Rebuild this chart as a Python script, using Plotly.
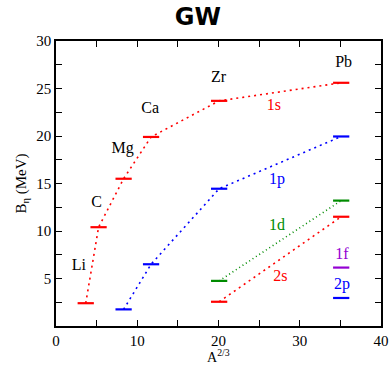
import plotly.graph_objects as go

# Data
nuclei = ["Li", "C", "Mg", "Ca", "Zr", "Pb"]
a23 = [3.66, 5.24, 8.32, 11.70, 20.08, 35.10]
s1 = [2.4, 10.4, 15.5, 19.9, 23.7, 25.6]
p1_x = [8.32, 11.70, 20.08, 35.10]
p1 = [1.75, 6.5, 14.45, 19.95]
d1_x = [20.08, 35.10]
d1 = [4.75, 13.2]
s2_x = [20.08, 35.10]
s2 = [2.55, 11.5]
f1_x = [35.10]
f1 = [6.15]
p2_x = [35.10]
p2 = [2.95]

nuc_lab_x = [2.8, 5.0, 8.2, 11.6, 20.0, 35.4]
nuc_lab_y = [6.3, 12.9, 18.6, 22.8, 26.1, 27.7]

orb_names = ["1s", "1p", "1d", "2s", "1f", "2p"]
orb_lab_x = [26.8, 27.2, 27.2, 27.6, 35.2, 35.2]
orb_lab_y = [23.2, 15.4, 10.5, 5.2, 7.45, 4.3]

RED = "#ff0000"
BLUE = "#0000ff"
GREEN = "#008b00"
PURPLE = "#9400d3"
orb_cols = [RED, BLUE, GREEN, RED, PURPLE, BLUE]

HW = 1.0
SERIF = "Liberation Serif"

fig = go.Figure()

def add_series(xs, ys, col, dotted=True, dash="2px,4px"):
    if dotted and len(xs) > 1:
        fig.add_trace(go.Scatter(x=xs, y=ys, mode="lines",
                                 line=dict(color=col, width=1.6, dash=dash),
                                 hoverinfo="skip", showlegend=False))
    sx, sy = [], []
    for x, y in zip(xs, ys):
        sx += [x - HW, x + HW, None]
        sy += [y, y, None]
    fig.add_trace(go.Scatter(x=sx, y=sy, mode="lines",
                             line=dict(color=col, width=2.2),
                             hoverinfo="skip", showlegend=False))

add_series(a23, s1, RED)
add_series(p1_x, p1, BLUE)
add_series(d1_x, d1, GREEN, dash="1px,3px")
add_series(s2_x, s2, RED)
add_series(f1_x, f1, PURPLE, dotted=False)
add_series(p2_x, p2, BLUE, dotted=False)

fig.add_trace(go.Scatter(x=nuc_lab_x, y=nuc_lab_y, mode="text", text=nuclei,
                         textfont=dict(family=SERIF, size=16, color="black"),
                         hoverinfo="skip", showlegend=False))
fig.add_trace(go.Scatter(x=orb_lab_x, y=orb_lab_y, mode="text", text=orb_names,
                         textfont=dict(family=SERIF, size=16, color=orb_cols),
                         hoverinfo="skip", showlegend=False))

axis_common = dict(showgrid=False, zeroline=False, showline=True, linecolor="black",
                   linewidth=1.5, mirror="ticks", ticks="inside", ticklen=6,
                   tickwidth=1, tickcolor="black", automargin=False,
                   tickfont=dict(family=SERIF, size=15, color="black"))

fig.add_annotation(text="A<sup>2/3</sup>", xref="paper", yref="paper", x=0.5, y=0,
                   xanchor="center", yanchor="top", yshift=-19, showarrow=False,
                   font=dict(family=SERIF, size=14, color="black"))

fig.update_layout(
    width=391, height=365,
    margin=dict(l=56, r=10, t=41, b=39),
    paper_bgcolor="white", plot_bgcolor="white",
    title=dict(text="<b>GW</b>", x=0.506, xanchor="center", y=0.955, yanchor="middle",
               font=dict(family="DejaVu Sans", size=24, color="black")),
    xaxis=dict(range=[0, 40], dtick=10, tick0=0,
               minor=dict(dtick=5, ticks="inside", ticklen=6, tickcolor="black"),
               **axis_common),
    yaxis=dict(range=[0, 30], tickvals=[5, 10, 15, 20, 25, 30],
               minor=dict(dtick=2.5, ticks="inside", ticklen=6, tickcolor="black"),
               title=dict(text="B<sub>η</sub> (MeV)", standoff=6,
                          font=dict(family=SERIF, size=15, color="black")),
               **axis_common),
)

fig.write_html("out.html")
